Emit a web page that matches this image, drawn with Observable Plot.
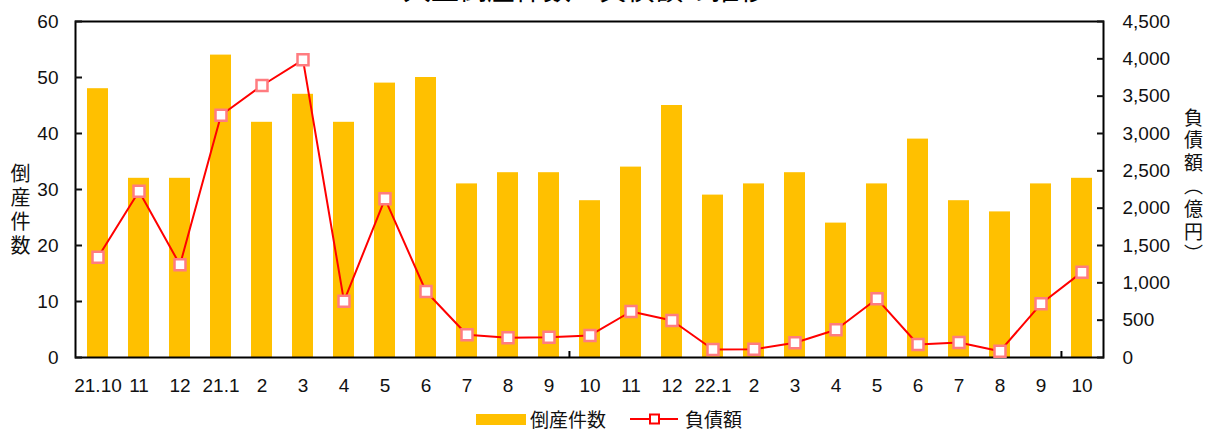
<!DOCTYPE html>
<html>
<head>
<meta charset="utf-8">
<script src="https://cdn.jsdelivr.net/npm/d3@7"></script>
<script src="https://cdn.jsdelivr.net/npm/@observablehq/plot@0.6"></script>
<style>
  html, body { margin: 0; padding: 0; background: #fff; overflow: hidden; }
  body { position: relative; width: 1206px; height: 432px; font-family: 'Liberation Sans', 'Noto Sans CJK JP', sans-serif; }
  #title { position: absolute; left: 0; width: 1170px; top: -27px; text-align: center; font-family: 'Noto Sans CJK JP', sans-serif; font-size: 28px; line-height: 30px; color: #000; }
  #legend { display: flex; justify-content: center; align-items: center; height: 22px; line-height: 22px; margin-top: 8px; padding-left: 12px; font-family: 'Noto Sans CJK JP', sans-serif; font-size: 19px; color: #111; }
  #legend .sw { width: 50px; height: 11px; background: #FFC000; margin-right: 4px; }
  #legend .gap { width: 24px; }
</style>
</head>
<body>
<div id="title">大型倒産件数・負債額の推移</div>
<div id="chart"></div>
<div id="legend">
  <div class="sw"></div><span>倒産件数</span><div class="gap"></div>
  <svg width="48" height="14" style="margin-right:7px"><line x1="0" y1="7" x2="48" y2="7" stroke="red" stroke-width="2"/><rect x="20" y="2.5" width="9" height="9" fill="white" stroke="red" stroke-width="2"/></svg>
  <span>負債額</span>
</div>
<script>
// Month labels (x-axis)
const months = ["21.10","11","12","21.1","2","3","4","5","6","7","8","9","10","11","12","22.1","2","3","4","5","6","7","8","9","10"];
// Bankruptcy counts (left axis)
const counts = [48,32,32,54,42,47,42,49,50,31,33,33,28,34,45,29,31,33,24,31,39,28,26,31,32];
// Liabilities, 億円 (right axis)
const debts = [1343,2227,1241,3245,3643,3987,754,2125,884,304,264,272,295,616,496,107,110,197,371,786,174,201,85,719,1143];
// Axis ticks
const leftTicks = [0,10,20,30,40,50,60];
const rightTicks = [0,500,1000,1500,2000,2500,3000,3500,4000,4500];
const bottomTickAt = [12, 24];
const leftMax = 60, rightMax = 4500;
const k = rightMax / leftMax;

const data = months.map((m, i) => ({i, label: m, count: counts[i], debt: debts[i]}));

const W = 1206, H = 400, mL = 75, mR = 103, mT = 21, mB = 43;
const step = (W - mL - mR) / months.length;
const pxPerUnit = (H - mT - mB) / leftMax;

const chart = Plot.plot({
  width: W, height: H,
  marginLeft: mL, marginRight: mR, marginTop: mT, marginBottom: mB,
  style: {fontFamily: "'Liberation Sans', 'Noto Sans CJK JP', sans-serif", fontSize: "19px", color: "#111", background: "white"},
  x: {type: "band", domain: d3.range(months.length), paddingInner: 0.49, paddingOuter: 0.245, axis: null},
  y: {domain: [0, leftMax], axis: null},
  marks: [
    Plot.barY(data, {x: "i", y: "count", fill: "#FFC000"}),
    Plot.frame({stroke: "black", strokeWidth: 2}),
    Plot.axisY({anchor: "left", label: null, ticks: leftTicks, tickSize: -7, tickPadding: 24, strokeWidth: 2, fontSize: 19}),
    Plot.axisY({anchor: "right", label: null, ticks: rightTicks.map(v => v / k), tickFormat: d => d3.format(",")(Math.round(d * k)), tickSize: -7, tickPadding: 26, strokeWidth: 2, fontSize: 19}),
    Plot.axisX({anchor: "bottom", label: null, tickSize: 0, tickPadding: 21, tickFormat: i => months[i], fontSize: 19}),
    Plot.ruleX(bottomTickAt, {x: d => d, y1: 0, y2: 6 / pxPerUnit, dx: -step / 2, stroke: "black", strokeWidth: 2}),
    Plot.line(data, {x: "i", y: d => d.debt / k, stroke: "red", strokeWidth: 2}),
    Plot.dot(data, {x: "i", y: d => d.debt / k, symbol: "square", r: 6.2, fill: "white", stroke: "#ff7c80", strokeWidth: 2.5}),
    Plot.text(["倒\n産\n件\n数"], {text: d => d, frameAnchor: "top-left", dx: -55, dy: 142, lineAnchor: "top", textAnchor: "middle", fontSize: 20, lineHeight: 1.2, fontFamily: "'Noto Sans CJK JP', sans-serif", fill: "#111"}),
    Plot.text(["負\n債\n額\n︵\n億\n円\n︶"], {text: d => d, frameAnchor: "top-right", dx: 90, dy: 87, lineAnchor: "top", textAnchor: "middle", fontSize: 19, lineHeight: 1.2, fontFamily: "'Noto Sans CJK JP', sans-serif", fill: "#111"})
  ]
});
document.getElementById("chart").appendChild(chart);
</script>
</body>
</html>
